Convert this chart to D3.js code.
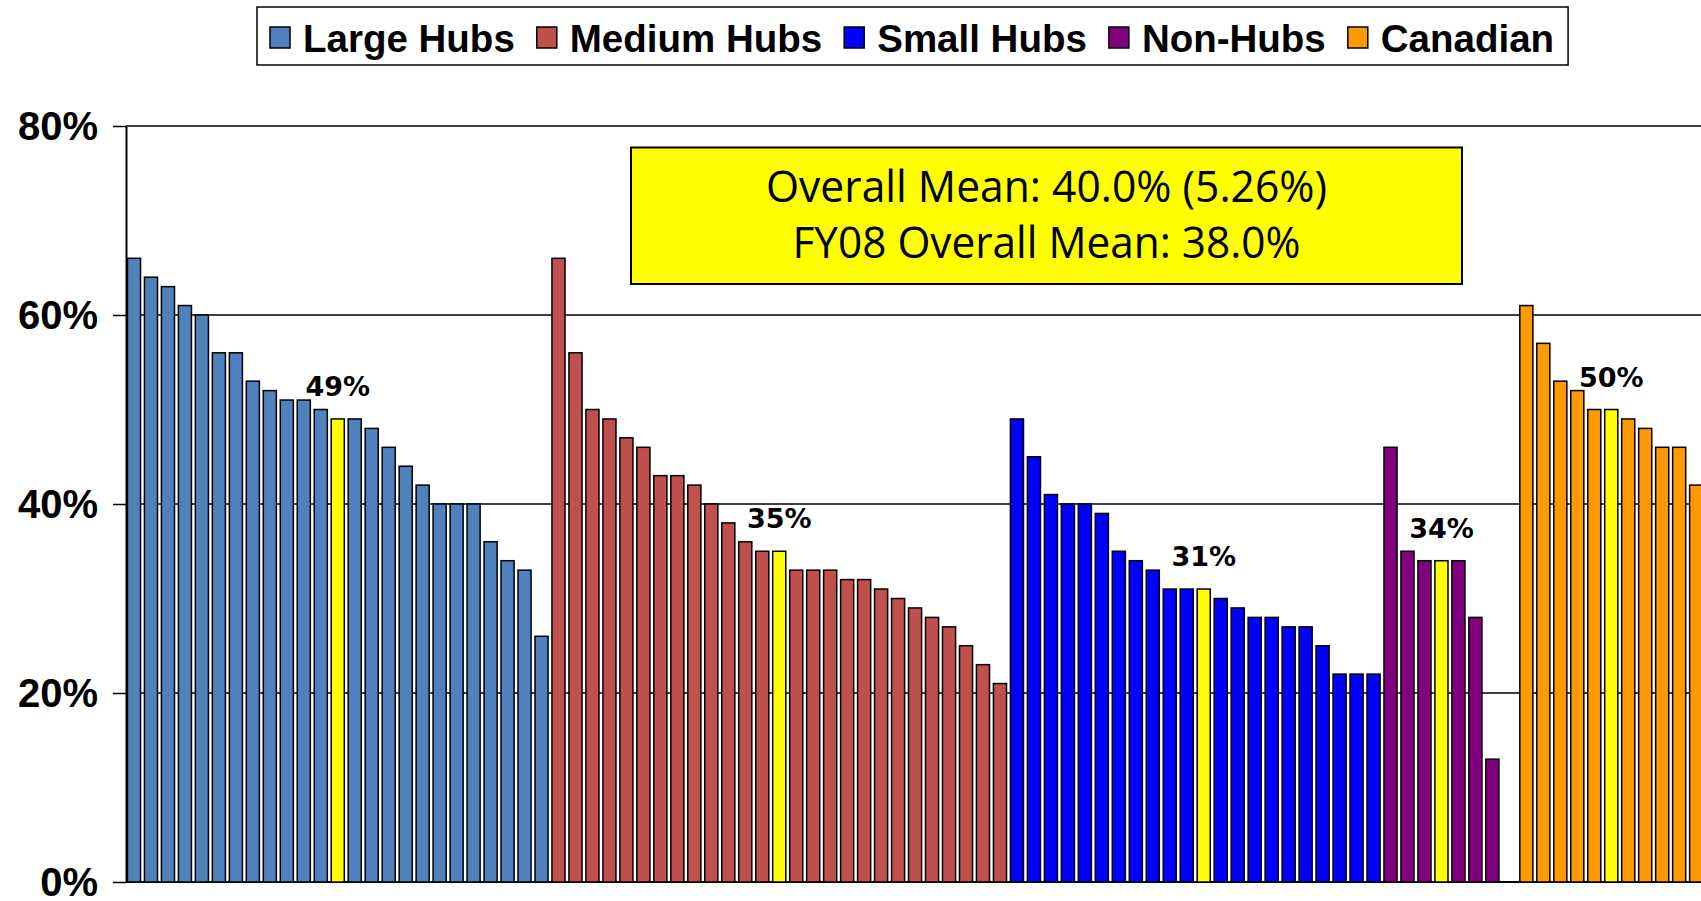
<!DOCTYPE html>
<html>
<head>
<meta charset="utf-8">
<script src="https://cdn.jsdelivr.net/npm/d3@7"></script>
<style>
body { margin: 0; background: #fff; }
svg { display: block; }
</style>
</head>
<body>
<script>
var width = 1701, height = 901

var groups = ["Large Hubs", "Medium Hubs", "Small Hubs", "Non-Hubs", "Canadian"]
var largeHubs = [66,64,63,61,60,56,56,53,52,51,51,50,49,49,48,46,44,42,40,40,40,36,34,33,26]
var mediumHubs = [66,56,50,49,47,46,43,43,42,40,38,36,35,35,33,33,33,32,32,31,30,29,28,27,25,23,21]
var smallHubs = [49,45,41,40,40,39,35,34,33,31,31,31,30,29,28,28,27,27,25,22,22,22]
var nonHubs = [46,35,34,34,34,28,13]
var canadian = [61,57,53,52,50,50,49,48,46,46,42]
var medians = [12, 13, 11, 3, 5]   // position of the highlighted (median) bar in each group
var yTicks = [0, 20, 40, 60, 80]
var boxText = ["Overall Mean: 40.0% (5.26%)", "FY08 Overall Mean: 38.0%"]

var series = [largeHubs, mediumHubs, smallHubs, nonHubs, canadian]

// one flat list of bars, with an empty slot before the canadian group
var bars = []
series.forEach(function(vals, g) {
  if (g === 4) bars.push({key: "gap", value: null, group: null})
  vals.forEach(function(v, i) {
    bars.push({key: g + "-" + i, value: v, group: groups[g], median: i === medians[g]})
  })
})

var color = d3.scaleOrdinal()
    .domain(groups)
    .range(["#4f81bd", "#c0504d", "#0000ff", "#800080", "#ff9900"])

var x = d3.scaleBand()
    .domain(bars.map(function(d) { return d.key }))
    .range([125.5, 125.5 + 16.98 * bars.length])
    .paddingInner(0.23)
    .paddingOuter(0.115)

var y = d3.scaleLinear()
    .domain([0, 80])
    .range([882, 126])

var svg = d3.select("body").append("svg")
    .attr("width", width)
    .attr("height", height)

// GRIDLINES
svg.append("g").selectAll("line")
    .data(yTicks)
  .enter().append("line")
    .attr("x1", 126)
    .attr("x2", width)
    .attr("y1", function(d) { return y(d) })
    .attr("y2", function(d) { return y(d) })
    .attr("stroke", "#000")
    .attr("stroke-width", function(d) { return d === 0 ? 2 : 1.3 })

// BARS
svg.append("g").selectAll("rect")
    .data(bars.filter(function(d) { return d.value !== null }))
  .enter().append("rect")
    .attr("x", function(d) { return x(d.key) })
    .attr("y", function(d) { return y(d.value) })
    .attr("width", x.bandwidth())
    .attr("height", function(d) { return y(0) - y(d.value) })
    .attr("fill", function(d) { return d.median ? "#ffff00" : color(d.group) })
    .attr("stroke", "#000")
    .attr("stroke-width", 1.5)

// MEDIAN LABELS
svg.append("g").selectAll("text")
    .data(bars.filter(function(d) { return d.median }))
  .enter().append("text")
    .text(function(d) { return d.value + "%" })
    .attr("x", function(d) { return x(d.key) + x.bandwidth() / 2 })
    .attr("y", function(d) { return y(d.value) - 23 })
    .attr("text-anchor", "middle")
    .style("font-family", "'DejaVu Sans', Verdana, sans-serif")
    .style("font-weight", "bold")
    .style("font-size", "27px")

// Y AXIS
var yAxis = svg.append("g")
    .attr("transform", "translate(126,0)")
    .call(d3.axisLeft(y)
      .tickValues(yTicks)
      .tickSize(13)
      .tickSizeOuter(0)
      .tickPadding(15)
      .tickFormat(function(d) { return d + "%" }))

yAxis.select(".domain").attr("stroke", "#000").attr("stroke-width", 2)
yAxis.selectAll(".tick line").attr("stroke", "#000").attr("stroke-width", 1.5)
yAxis.selectAll(".tick text")
    .attr("fill", "#000")
    .attr("dy", "0.33em")
    .style("font-family", "'Liberation Sans', Arial, sans-serif")
    .style("font-weight", "bold")
    .style("font-size", "40px")

// MEAN BOX
svg.append("rect")
    .attr("x", 631)
    .attr("y", 147.5)
    .attr("width", 831)
    .attr("height", 136.5)
    .attr("fill", "#ffff00")
    .attr("stroke", "#000")
    .attr("stroke-width", 2)

svg.append("g").selectAll("text")
    .data(boxText)
  .enter().append("text")
    .text(function(d) { return d })
    .attr("x", 1046.5)
    .attr("y", function(d, i) { return 202 + i * 56 })
    .attr("text-anchor", "middle")
    .attr("textLength", function(d, i) { return i === 0 ? 561 : 508 })
    .attr("lengthAdjust", "spacingAndGlyphs")
    .style("font-family", "'Open Sans', sans-serif")
    .style("font-size", "43px")

// LEGEND
var legend = svg.append("g")
var legendBox = legend.append("rect")
    .attr("x", 257)
    .attr("y", 7)
    .attr("height", 58)
    .attr("fill", "#fff")
    .attr("stroke", "#000")
    .attr("stroke-width", 1.5)

var lx = 270
groups.forEach(function(g) {
  legend.append("rect")
      .attr("x", lx)
      .attr("y", 27)
      .attr("width", 20)
      .attr("height", 21)
      .attr("fill", color(g))
      .attr("stroke", "#000")
      .attr("stroke-width", 1.5)
  var t = legend.append("text")
      .text(g)
      .attr("x", lx + 33)
      .attr("y", 52)
      .style("font-family", "'Liberation Sans', Arial, sans-serif")
      .style("font-weight", "bold")
      .style("font-size", "38.5px")
  lx = lx + 33 + t.node().getComputedTextLength() + 22
})
legendBox.attr("width", lx - 22 + 14 - 257)
</script>
</body>
</html>
